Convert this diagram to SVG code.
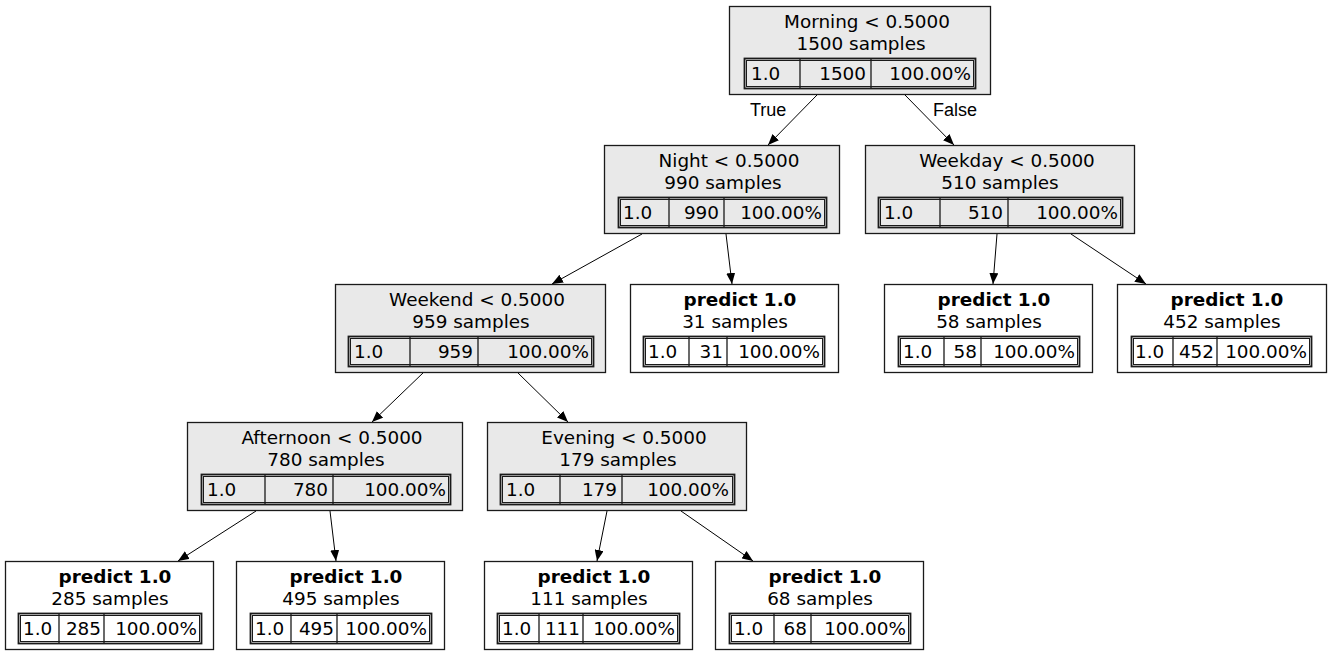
<svg xmlns="http://www.w3.org/2000/svg" width="1331" height="656" viewBox="0 0 1331 656">
  <style>
    .box { stroke: #1a1a1a; stroke-width: 1.3; }
    .split { fill: #e9e9e9; }
    .leaf { fill: #ffffff; }
    text { font-family: "DejaVu Sans", sans-serif; font-size: 18.4px; fill: #000; }
    .c { text-anchor: middle; }
    .e { text-anchor: end; }
    .b { font-weight: bold; }
    .tbl { fill: none; stroke: #1a1a1a; stroke-width: 1.8; }
    .cell { fill: none; stroke: #1a1a1a; stroke-width: 1; }
    .div { stroke: #1a1a1a; stroke-width: 1.3; }
    .edge { stroke: #000; stroke-width: 1; fill: none; marker-end: url(#arr); }
    .lbl { font-family: "Liberation Sans", Arial, sans-serif; font-size: 18px; }
  </style>
  <defs>
    <marker id="arr" markerWidth="11" markerHeight="9" refX="11" refY="4.5" orient="auto" markerUnits="userSpaceOnUse">
      <path d="M0,0 L11,4.5 L0,9 z" fill="#000"/>
    </marker>
  </defs>

  <rect width="1331" height="656" fill="#ffffff"/>

  <!-- connectors -->
  <g id="edges">
    <line class="edge" x1="817" y1="95" x2="768" y2="145"/>
    <line class="edge" x1="905" y1="95" x2="954" y2="145"/>
    <line class="edge" x1="642" y1="234" x2="552" y2="284"/>
    <line class="edge" x1="726" y1="234" x2="732" y2="284"/>
    <line class="edge" x1="997" y1="234" x2="993" y2="284"/>
    <line class="edge" x1="1071" y1="234" x2="1146" y2="284"/>
    <line class="edge" x1="424" y1="372" x2="372" y2="422"/>
    <line class="edge" x1="517" y1="372" x2="568" y2="422"/>
    <line class="edge" x1="256" y1="511" x2="178" y2="561"/>
    <line class="edge" x1="330" y1="511" x2="336" y2="561"/>
    <line class="edge" x1="607" y1="511" x2="597" y2="561"/>
    <line class="edge" x1="681" y1="511" x2="753" y2="561"/>
    <text class="lbl" x="750" y="116">True</text>
    <text class="lbl" x="933" y="116">False</text>
  </g>

  <!-- root split -->
  <g id="n0">
    <rect class="box split" x="729.5" y="6.5" width="261" height="88"/>
    <text class="c" x="867" y="28">Morning &lt; 0.5000</text>
    <text class="c" x="861" y="50">1500 samples</text>
    <rect class="tbl" x="744.5" y="58.5" width="231" height="30"/>
    <rect class="cell" x="746.5" y="60.5" width="227" height="26"/>
    <line class="div" x1="800" y1="59" x2="800" y2="88"/>
    <line class="div" x1="871" y1="59" x2="871" y2="88"/>
    <text x="751" y="80">1.0</text>
    <text class="e" x="866" y="80">1500</text>
    <text class="e" x="971" y="80">100.00%</text>
  </g>

  <g id="n1">
    <rect class="box split" x="604.5" y="145.5" width="235" height="88"/>
    <text class="c" x="729" y="167">Night &lt; 0.5000</text>
    <text class="c" x="723" y="189">990 samples</text>
    <rect class="tbl" x="618.5" y="197.5" width="208" height="30"/>
    <rect class="cell" x="620.5" y="199.5" width="204" height="26"/>
    <line class="div" x1="669" y1="198" x2="669" y2="227"/>
    <line class="div" x1="724" y1="198" x2="724" y2="227"/>
    <text x="623" y="219">1.0</text>
    <text class="e" x="719" y="219">990</text>
    <text class="e" x="822" y="219">100.00%</text>
  </g>

  <g id="n2">
    <rect class="box split" x="865.5" y="145.5" width="269" height="88"/>
    <text class="c" x="1007" y="167">Weekday &lt; 0.5000</text>
    <text class="c" x="1000" y="189">510 samples</text>
    <rect class="tbl" x="878.5" y="197.5" width="244" height="30"/>
    <rect class="cell" x="880.5" y="199.5" width="240" height="26"/>
    <line class="div" x1="940" y1="198" x2="940" y2="227"/>
    <line class="div" x1="1008" y1="198" x2="1008" y2="227"/>
    <text x="884" y="219">1.0</text>
    <text class="e" x="1003" y="219">510</text>
    <text class="e" x="1118" y="219">100.00%</text>
  </g>

  <g id="n3">
    <rect class="box split" x="335.5" y="284.5" width="270" height="88"/>
    <text class="c" x="477" y="306">Weekend &lt; 0.5000</text>
    <text class="c" x="471" y="328">959 samples</text>
    <rect class="tbl" x="348.5" y="336.5" width="245" height="30"/>
    <rect class="cell" x="350.5" y="338.5" width="241" height="26"/>
    <line class="div" x1="410" y1="337" x2="410" y2="366"/>
    <line class="div" x1="478" y1="337" x2="478" y2="366"/>
    <text x="354" y="358">1.0</text>
    <text class="e" x="473" y="358">959</text>
    <text class="e" x="589" y="358">100.00%</text>
  </g>

  <g id="n4">
    <rect class="box leaf" x="630.5" y="284.5" width="208" height="88"/>
    <text class="c b" x="740" y="306">predict 1.0</text>
    <text class="c" x="735" y="328">31 samples</text>
    <rect class="tbl" x="643.5" y="336.5" width="181" height="30"/>
    <rect class="cell" x="645.5" y="338.5" width="177" height="26"/>
    <line class="div" x1="689" y1="337" x2="689" y2="366"/>
    <line class="div" x1="727" y1="337" x2="727" y2="366"/>
    <text x="648" y="358">1.0</text>
    <text class="e" x="723" y="358">31</text>
    <text class="e" x="820" y="358">100.00%</text>
  </g>

  <g id="n5">
    <rect class="box leaf" x="884.5" y="284.5" width="208" height="88"/>
    <text class="c b" x="994" y="306">predict 1.0</text>
    <text class="c" x="989" y="328">58 samples</text>
    <rect class="tbl" x="898.5" y="336.5" width="181" height="30"/>
    <rect class="cell" x="900.5" y="338.5" width="177" height="26"/>
    <line class="div" x1="944" y1="337" x2="944" y2="366"/>
    <line class="div" x1="981" y1="337" x2="981" y2="366"/>
    <text x="903" y="358">1.0</text>
    <text class="e" x="977" y="358">58</text>
    <text class="e" x="1075" y="358">100.00%</text>
  </g>

  <g id="n6">
    <rect class="box leaf" x="1117.5" y="284.5" width="209" height="88"/>
    <text class="c b" x="1227" y="306">predict 1.0</text>
    <text class="c" x="1222" y="328">452 samples</text>
    <rect class="tbl" x="1131.5" y="336.5" width="180" height="30"/>
    <rect class="cell" x="1133.5" y="338.5" width="176" height="26"/>
    <line class="div" x1="1173" y1="337" x2="1173" y2="366"/>
    <line class="div" x1="1217" y1="337" x2="1217" y2="366"/>
    <text x="1135" y="358">1.0</text>
    <text class="e" x="1214" y="358">452</text>
    <text class="e" x="1307" y="358">100.00%</text>
  </g>

  <g id="n7">
    <rect class="box split" x="187.5" y="422.5" width="275" height="88"/>
    <text class="c" x="332" y="444">Afternoon &lt; 0.5000</text>
    <text class="c" x="326" y="466">780 samples</text>
    <rect class="tbl" x="201.5" y="474.5" width="249" height="30"/>
    <rect class="cell" x="203.5" y="476.5" width="245" height="26"/>
    <line class="div" x1="265" y1="475" x2="265" y2="504"/>
    <line class="div" x1="333" y1="475" x2="333" y2="504"/>
    <text x="207" y="496">1.0</text>
    <text class="e" x="328" y="496">780</text>
    <text class="e" x="446" y="496">100.00%</text>
  </g>

  <g id="n8">
    <rect class="box split" x="487.5" y="422.5" width="259" height="88"/>
    <text class="c" x="624" y="444">Evening &lt; 0.5000</text>
    <text class="c" x="618" y="466">179 samples</text>
    <rect class="tbl" x="500.5" y="474.5" width="234" height="30"/>
    <rect class="cell" x="502.5" y="476.5" width="230" height="26"/>
    <line class="div" x1="560" y1="475" x2="560" y2="504"/>
    <line class="div" x1="622" y1="475" x2="622" y2="504"/>
    <text x="506" y="496">1.0</text>
    <text class="e" x="617" y="496">179</text>
    <text class="e" x="729" y="496">100.00%</text>
  </g>

  <g id="n9">
    <rect class="box leaf" x="5.5" y="561.5" width="208" height="88"/>
    <text class="c b" x="115" y="583">predict 1.0</text>
    <text class="c" x="110" y="605">285 samples</text>
    <rect class="tbl" x="18.5" y="613.5" width="183" height="30"/>
    <rect class="cell" x="20.5" y="615.5" width="179" height="26"/>
    <line class="div" x1="59" y1="614" x2="59" y2="643"/>
    <line class="div" x1="104" y1="614" x2="104" y2="643"/>
    <text x="23" y="635">1.0</text>
    <text class="e" x="101" y="635">285</text>
    <text class="e" x="197" y="635">100.00%</text>
  </g>

  <g id="n10">
    <rect class="box leaf" x="236.5" y="561.5" width="208" height="88"/>
    <text class="c b" x="346" y="583">predict 1.0</text>
    <text class="c" x="341" y="605">495 samples</text>
    <rect class="tbl" x="250.5" y="613.5" width="181" height="30"/>
    <rect class="cell" x="252.5" y="615.5" width="177" height="26"/>
    <line class="div" x1="291" y1="614" x2="291" y2="643"/>
    <line class="div" x1="337" y1="614" x2="337" y2="643"/>
    <text x="255" y="635">1.0</text>
    <text class="e" x="334" y="635">495</text>
    <text class="e" x="427" y="635">100.00%</text>
  </g>

  <g id="n11">
    <rect class="box leaf" x="484.5" y="561.5" width="208" height="88"/>
    <text class="c b" x="594" y="583">predict 1.0</text>
    <text class="c" x="589" y="605">111 samples</text>
    <rect class="tbl" x="497.5" y="613.5" width="182" height="30"/>
    <rect class="cell" x="499.5" y="615.5" width="178" height="26"/>
    <line class="div" x1="539" y1="614" x2="539" y2="643"/>
    <line class="div" x1="583" y1="614" x2="583" y2="643"/>
    <text x="502" y="635">1.0</text>
    <text class="e" x="580" y="635">111</text>
    <text class="e" x="675" y="635">100.00%</text>
  </g>

  <g id="n12">
    <rect class="box leaf" x="715.5" y="561.5" width="208" height="88"/>
    <text class="c b" x="825" y="583">predict 1.0</text>
    <text class="c" x="820" y="605">68 samples</text>
    <rect class="tbl" x="729.5" y="613.5" width="181" height="30"/>
    <rect class="cell" x="731.5" y="615.5" width="177" height="26"/>
    <line class="div" x1="774" y1="614" x2="774" y2="643"/>
    <line class="div" x1="811" y1="614" x2="811" y2="643"/>
    <text x="734" y="635">1.0</text>
    <text class="e" x="807" y="635">68</text>
    <text class="e" x="906" y="635">100.00%</text>
  </g>
</svg>
